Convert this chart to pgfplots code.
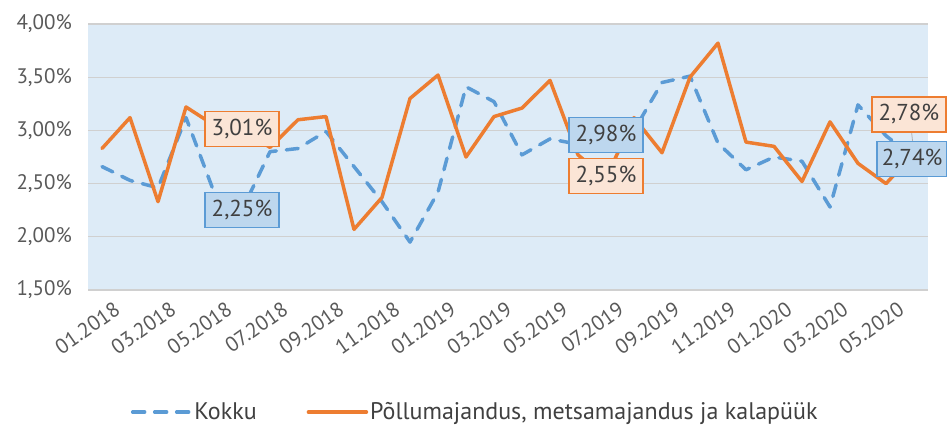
\documentclass[border=0pt]{standalone}
\usepackage{fontspec}
\setmainfont{PT Sans}
\usepackage{pgfplots}
\pgfplotsset{compat=1.18}
\definecolor{bgblue}{HTML}{DDEBF7}
\definecolor{kblue}{HTML}{5B9BD5}
\definecolor{korange}{HTML}{ED7D31}
\definecolor{gridc}{HTML}{D0D0D0}
\definecolor{ticktext}{HTML}{595959}
\definecolor{labtext}{HTML}{404040}
\definecolor{lborange}{HTML}{FBE5D6}
\definecolor{lbblue}{HTML}{BDD7EE}
\begin{document}
\begin{tikzpicture}
\useasboundingbox (0,0) rectangle (947bp,425bp);
\begin{axis}[
  at={(88bp,135bp)}, anchor=south west,
  scale only axis, width=840bp, height=266bp,
  xmin=-0.5, xmax=29.5, ymin=1.5, ymax=4,
  clip=false,
  axis line style={draw=none},
  axis background/.style={fill=bgblue},
  ymajorgrids, major grid style={gridc, line width=1.2bp},
  ytick={1.5,2,...,4},
  major tick length=0pt,
  xtick={0,2,...,28},
  xticklabels={01.2018,03.2018,05.2018,07.2018,09.2018,11.2018,01.2019,03.2019,05.2019,07.2019,09.2019,11.2019,01.2020,03.2020,05.2020},
  /pgf/number format/assume math mode=true,
  yticklabel={\pgfmathprintnumber[fixed,fixed zerofill,precision=2,use comma]{\tick}\%},
  yticklabel style={anchor=east, inner sep=0pt, xshift=-16bp, font=\fontsize{21bp}{24bp}\selectfont, text=ticktext},
  xticklabel style={rotate=35, anchor=north east, inner sep=0pt, yshift=-15bp, xshift=3bp, font=\fontsize{21bp}{24bp}\selectfont, text=ticktext},
  legend style={at={(0.461,-0.459)}, anchor=center, draw=none, fill=none,
    font=\fontsize{24bp}{27bp}\selectfont, text=labtext, legend columns=2,
    /tikz/every even column/.append style={column sep=48bp}},
  legend image code/.code={\draw[#1] (0bp,0bp) -- (58bp,0bp);},
]
\addplot[kblue, line width=3.5bp, dash pattern=on 12bp off 10bp, line cap=round, line join=round] coordinates {
(0,2.66) (1,2.53) (2,2.46) (3,3.12) (4,2.42) (5,2.25) (6,2.80) (7,2.83) (8,2.99) (9,2.66)
(10,2.33) (11,1.95) (12,2.42) (13,3.41) (14,3.27) (15,2.77) (16,2.92) (17,2.87) (18,2.98) (19,3.00)
(20,3.45) (21,3.51) (22,2.88) (23,2.63) (24,2.75) (25,2.71) (26,2.28) (27,3.24) (28,2.95) (29,2.74)
};
\addlegendentry{Kokku}
\addplot[korange, line width=3.5bp, line cap=round, line join=round] coordinates {
(0,2.83) (1,3.12) (2,2.33) (3,3.22) (4,3.05) (5,3.01) (6,2.84) (7,3.10) (8,3.13) (9,2.07)
(10,2.37) (11,3.30) (12,3.52) (13,2.75) (14,3.13) (15,3.21) (16,3.47) (17,2.77) (18,2.55) (19,3.12)
(20,2.79) (21,3.50) (22,3.82) (23,2.89) (24,2.85) (25,2.52) (26,3.08) (27,2.69) (28,2.50) (29,2.78)
};
\addlegendentry{Põllumajandus, metsamajandus ja kalapüük}
\tikzset{lab/.style={line width=1.2bp, text=labtext, font=\fontsize{23bp}{26bp}\selectfont, minimum width=74bp, minimum height=35bp, inner sep=0pt}}
\node[lab, draw=korange, fill=lborange] at (axis cs:5,3.01) {3,01\%};
\node[lab, draw=kblue, fill=lbblue] at (axis cs:5,2.25) {2,25\%};
\node[lab, draw=kblue, fill=lbblue] at (axis cs:18,2.96) {2,98\%};
\node[lab, draw=korange, fill=lborange] at (axis cs:18,2.57) {2,55\%};
\draw[gray!60, line width=0.8bp] (axis cs:28.85,3.13) -- (axis cs:29,2.78);
\node[lab, draw=korange, fill=lborange] at (axis cs:28.82,3.15) {2,78\%};
\node[lab, draw=kblue, fill=lbblue, minimum width=70bp] at (axis cs:28.93,2.73) {2,74\%};
\end{axis}
\end{tikzpicture}
\end{document}
